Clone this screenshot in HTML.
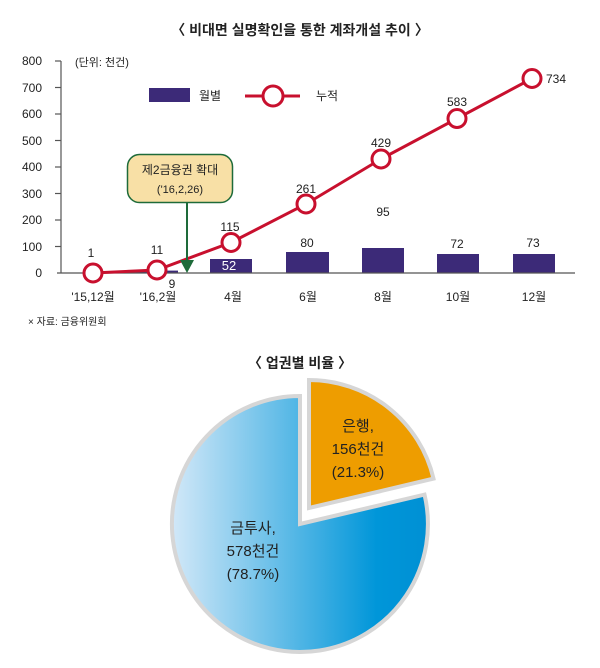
<!DOCTYPE html><html><head><meta charset="utf-8"><style>body{margin:0;background:#fff}svg{display:block}text{font-family:"Liberation Sans","Noto Sans CJK KR",sans-serif;fill:#222}</style></head><body>
<svg width="600" height="668" viewBox="0 0 600 668">
<text x="300" y="35" font-size="14" font-weight="bold" text-anchor="middle">〈 비대면 실명확인을 통한 계좌개설 추이 〉</text>
<g font-size="12" text-anchor="end">
<text x="42" y="65">800</text><text x="42" y="92">700</text><text x="42" y="118">600</text><text x="42" y="145">500</text><text x="42" y="171">400</text><text x="42" y="198">300</text><text x="42" y="224">200</text><text x="42" y="251">100</text><text x="42" y="277">0</text></g>
<g stroke="#555" stroke-width="1.2"><line x1="61" y1="61" x2="61" y2="273"/>
<line x1="55" y1="61" x2="61" y2="61"/><line x1="55" y1="87.5" x2="61" y2="87.5"/><line x1="55" y1="114" x2="61" y2="114"/><line x1="55" y1="140.5" x2="61" y2="140.5"/><line x1="55" y1="167" x2="61" y2="167"/><line x1="55" y1="193.5" x2="61" y2="193.5"/><line x1="55" y1="220" x2="61" y2="220"/><line x1="55" y1="246.5" x2="61" y2="246.5"/></g>
<text x="75" y="66" font-size="11">(단위: 천건)</text>
<rect x="149" y="88" width="41" height="14" fill="#3c2a78"/><text x="199" y="100" font-size="12">월별</text>
<line x1="245" y1="96" x2="300" y2="96" stroke="#c8102e" stroke-width="3"/><circle cx="273" cy="96" r="10" fill="#fff" stroke="#c8102e" stroke-width="3"/><text x="316" y="100" font-size="12">누적</text>
<g fill="#3c2a78"><rect x="136" y="270.6" width="42" height="2.4"/><rect x="210" y="259" width="42" height="14"/><rect x="286" y="252" width="43" height="21"/><rect x="362" y="248" width="42" height="25"/><rect x="437" y="254" width="42" height="19"/><rect x="513" y="254" width="42" height="19"/></g>
<line x1="57" y1="273" x2="575" y2="273" stroke="#555" stroke-width="1.2"/>
<polyline points="93,273 157,270 231,242.5 306,204 381,159 457,118.5 532,78.5" fill="none" stroke="#c8102e" stroke-width="3"/>
<g fill="#fff" stroke="#c8102e" stroke-width="3"><circle cx="93" cy="273" r="9"/><circle cx="157" cy="270" r="9"/><circle cx="231" cy="242.5" r="9"/><circle cx="306" cy="204" r="9"/><circle cx="381" cy="159" r="9"/><circle cx="457" cy="118.5" r="9"/><circle cx="532" cy="78.5" r="9"/></g>
<rect x="127.5" y="154.5" width="105" height="48" rx="12" fill="#f8e0a6" stroke="#1e6b3a" stroke-width="1.5"/>
<text x="180" y="174" font-size="12" text-anchor="middle">제2금융권 확대</text><text x="180" y="193" font-size="11" text-anchor="middle">('16,2,26)</text>
<line x1="187" y1="202" x2="187" y2="262" stroke="#1e6b3a" stroke-width="2"/><polygon points="180,260 194,260 187,273" fill="#1e6b3a"/>
<g font-size="12" text-anchor="middle">
<text x="91" y="257">1</text><text x="157" y="254">11</text><text x="172" y="288">9</text><text x="230" y="231">115</text><text x="306" y="193">261</text><text x="381" y="147">429</text><text x="457" y="106">583</text><text x="556" y="83">734</text>
<text x="229" y="270" font-size="13" style="fill:#fff">52</text><text x="307" y="247">80</text><text x="383" y="216">95</text><text x="457" y="248">72</text><text x="533" y="247">73</text>
<text x="93" y="301">'15,12월</text><text x="158" y="301">'16,2월</text><text x="233" y="301">4월</text><text x="308" y="301">6월</text><text x="383" y="301">8월</text><text x="458" y="301">10월</text><text x="534" y="301">12월</text></g>
<text x="28" y="325" font-size="10">× 자료: 금융위원회</text>
<text x="300" y="368" font-size="14" font-weight="bold" text-anchor="middle">〈 업권별 비율 〉</text>
<defs><linearGradient id="g" x1="0" x2="1"><stop offset="0" stop-color="#d2e8f8"/><stop offset="0.8" stop-color="#0096d9"/><stop offset="1" stop-color="#0090d4"/></linearGradient></defs>
<path d="M300,524 L300,396 A128,128 0 1 0 424.5,494.6 Z" fill="url(#g)" stroke="#d6d6d6" stroke-width="4" stroke-linejoin="miter"/>
<path d="M309,508 L309,380 A128,128 0 0 1 433.5,478.6 Z" fill="#ee9d00" stroke="#d6d6d6" stroke-width="4"/>
<g font-size="15" text-anchor="middle"><text x="358" y="431">은행,</text><text x="358" y="454">156천건</text><text x="358" y="477">(21.3%)</text>
<text x="253" y="533">금투사,</text><text x="253" y="556">578천건</text><text x="253" y="579">(78.7%)</text></g>
</svg></body></html>
